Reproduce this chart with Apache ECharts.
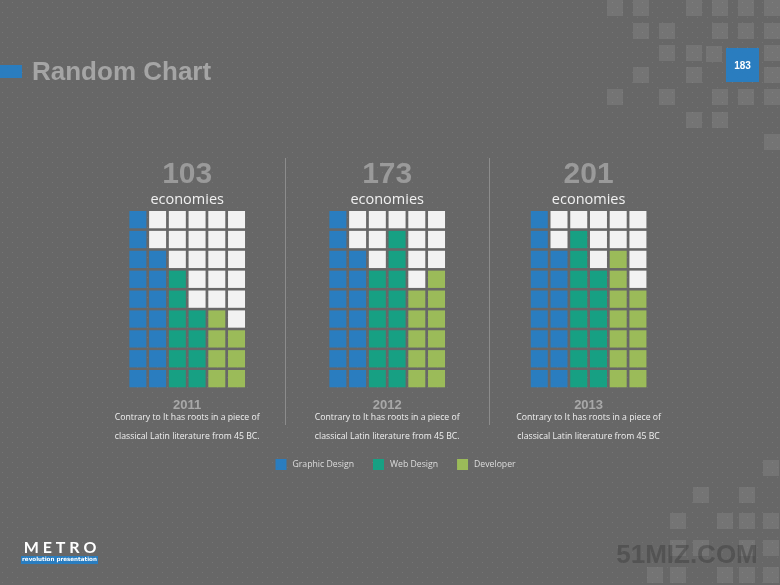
<!DOCTYPE html>
<html>
<head>
<meta charset="utf-8">
<script src="https://cdn.jsdelivr.net/npm/echarts@6/dist/echarts.min.js"></script>
<style>html,body{margin:0;padding:0;background:#676767;}#c{width:780px;height:585px;}</style>
</head>
<body>
<div id="c"></div>
<script>
// ---- data ----
const categories = ['Graphic Design', 'Web Design', 'Developer'];
const years = ['2011', '2012', '2013'];
const totals = [103, 173, 201];
// filled cells per column (two columns per category), counted from the bottom
const graphicCols = [[9, 7], [9, 7], [9, 7]];
const webCols = [[6, 4], [6, 8], [8, 6]];
const devCols = [[4, 3], [5, 6], [7, 5]];
const rowsPerColumn = 9;
const descLine1 = ['Contrary to It has roots in a piece of', 'Contrary to It has roots in a piece of', 'Contrary to It has roots in a piece of'];
const descLine2 = ['classical Latin literature from 45 BC.', 'classical Latin literature from 45 BC.', 'classical Latin literature from 45 BC'];

const colors = ['#2a7dbf', '#17a083', '#9bbb59'];
const emptyColor = '#f2f2f2';

// dotted background pattern
const pc = document.createElement('canvas');
pc.width = 10; pc.height = 10;
const px = pc.getContext('2d');
px.fillStyle = '#676767'; px.fillRect(0, 0, 10, 10);
px.fillStyle = '#757575';
px.fillRect(2, 2, 1, 1); px.fillRect(7, 7, 1, 1);

const gridLefts = [128, 328, 529.4];
const gridTop = 209.7, gridW = 118.4, gridH = 178.9;

const grids = [], xAxes = [], yAxes = [], series = [], graphics = [];
years.forEach((y, g) => {
  grids.push({ left: gridLefts[g], top: gridTop, width: gridW, height: gridH });
  xAxes.push({ gridIndex: g, type: 'value', min: -0.5, max: 5.5, show: false });
  yAxes.push({ gridIndex: g, type: 'value', min: -0.5, max: rowsPerColumn - 0.5, show: false });
  const colsByCat = [graphicCols[g], webCols[g], devCols[g]];
  const filled = [[], [], []], empty = [];
  colsByCat.forEach((cols, k) => {
    cols.forEach((h, j) => {
      const c = k * 2 + j;
      for (let r = 0; r < rowsPerColumn; r++) {
        if (r < h) filled[k].push([c, r]); else empty.push([c, r]);
      }
    });
  });
  series.push({ name: 'empty', type: 'scatter', xAxisIndex: g, yAxisIndex: g, symbol: 'rect', symbolSize: [17, 17.3],
    data: empty, itemStyle: { color: emptyColor, opacity: 1 }, silent: true });
  categories.forEach((name, k) => {
    series.push({ name: name, type: 'scatter', xAxisIndex: g, yAxisIndex: g, symbol: 'rect', symbolSize: [17, 17.3],
      data: filled[k], itemStyle: { color: colors[k], opacity: 1 } });
  });
  const cx = gridLefts[g] + gridW / 2;
  graphics.push(
    { type: 'text', x: cx, y: 175, style: { text: String(totals[g]), fill: '#9a9a9a', font: 'bold 30px "Liberation Sans", Arial', align: 'center', verticalAlign: 'middle' } },
    { type: 'text', x: cx, y: 200, style: { text: 'economies', fill: '#f0f0f0', font: '14.5px "Open Sans"', align: 'center', verticalAlign: 'middle' } },
    { type: 'text', x: cx, y: 405, style: { text: y, fill: '#a8a8a8', font: 'bold 13px "Liberation Sans", Arial', align: 'center', verticalAlign: 'middle' } },
    { type: 'text', x: cx, y: 418, style: { text: descLine1[g], fill: '#f0f0f0', font: '8.7px "Open Sans"', align: 'center', verticalAlign: 'middle' } },
    { type: 'text', x: cx, y: 437, style: { text: descLine2[g], fill: '#f0f0f0', font: '8.7px "Open Sans"', align: 'center', verticalAlign: 'middle' } }
  );
});

// separators
[285.5, 489.5].forEach(x => graphics.push({ type: 'line', shape: { x1: x, y1: 158, x2: x, y2: 425 }, style: { stroke: '#8c8c8c', lineWidth: 1 } }));

// decorative squares
const deco = [
  [607,0],[633,0],[686,0],[712,0],[738,0],[764,0],
  [633,23],[659,23],[712,23],[738,23],[764,23],
  [659,45],[686,45],[706,46],[764,45],
  [633,67],[686,67],[764,67],
  [607,89],[659,89],[712,89],[738,89],[764,89],
  [686,112],[712,112],[764,134],
  [763,460],[693,487],[739,487],
  [670,513],[717,513],[739,513],[763,513],
  [670,540],[693,540],[739,540],[763,540],
  [647,567],[670,567],[717,567],[739,567],[763,567]
];
deco.forEach(p => graphics.push({ type: 'rect', shape: { x: p[0], y: p[1], width: 16, height: 16 }, style: { fill: 'rgba(255,255,255,0.09)' }, z: -1 }));

// title, page number, logos
graphics.push(
  { type: 'rect', shape: { x: 0, y: 65, width: 22, height: 13 }, style: { fill: '#2a7dbf' } },
  { type: 'text', x: 32, y: 73, style: { text: 'Random Chart', fill: '#a5a5a5', font: 'bold 26px "Liberation Sans", Arial', verticalAlign: 'middle' } },
  { type: 'rect', shape: { x: 726, y: 48, width: 33, height: 34 }, style: { fill: '#2a7dbf' } },
  { type: 'text', x: 742.5, y: 66, style: { text: '183', fill: '#ffffff', font: 'bold 10px "Liberation Sans", Arial', align: 'center', verticalAlign: 'middle' } },
  { type: 'text', x: 60, y: 548, style: { text: 'M E T R O', fill: '#ffffff', font: 'bold 16px Lato', align: 'center', verticalAlign: 'middle' } },
  { type: 'rect', shape: { x: 21, y: 556, width: 77, height: 8 }, style: { fill: '#2a7dbf' } },
  { type: 'text', x: 59.5, y: 560, style: { text: 'revolution presentation', fill: '#ffffff', font: 'bold 5.6px "DejaVu Sans"', align: 'center', verticalAlign: 'middle' } },
  { type: 'text', x: 687, y: 556, style: { text: '51MIZ.COM', fill: 'rgba(45,45,45,0.35)', font: 'bold 26px "Liberation Sans", Arial', align: 'center', verticalAlign: 'middle' } }
);

const chart = echarts.init(document.getElementById('c'));
chart.setOption({
  backgroundColor: { image: pc, repeat: 'repeat' },
  animation: false,
  grid: grids, xAxis: xAxes, yAxis: yAxes,
  legend: {
    data: categories, left: 275.5, top: 459, padding: 0, itemWidth: 11, itemHeight: 11, itemGap: 19, icon: 'rect',
    textStyle: { color: '#dddddd', fontSize: 8.7, fontFamily: '"Open Sans"', padding: [0, 0, 0, 1] }
  },
  graphic: { elements: graphics },
  series: series
});
</script>
</body>
</html>
